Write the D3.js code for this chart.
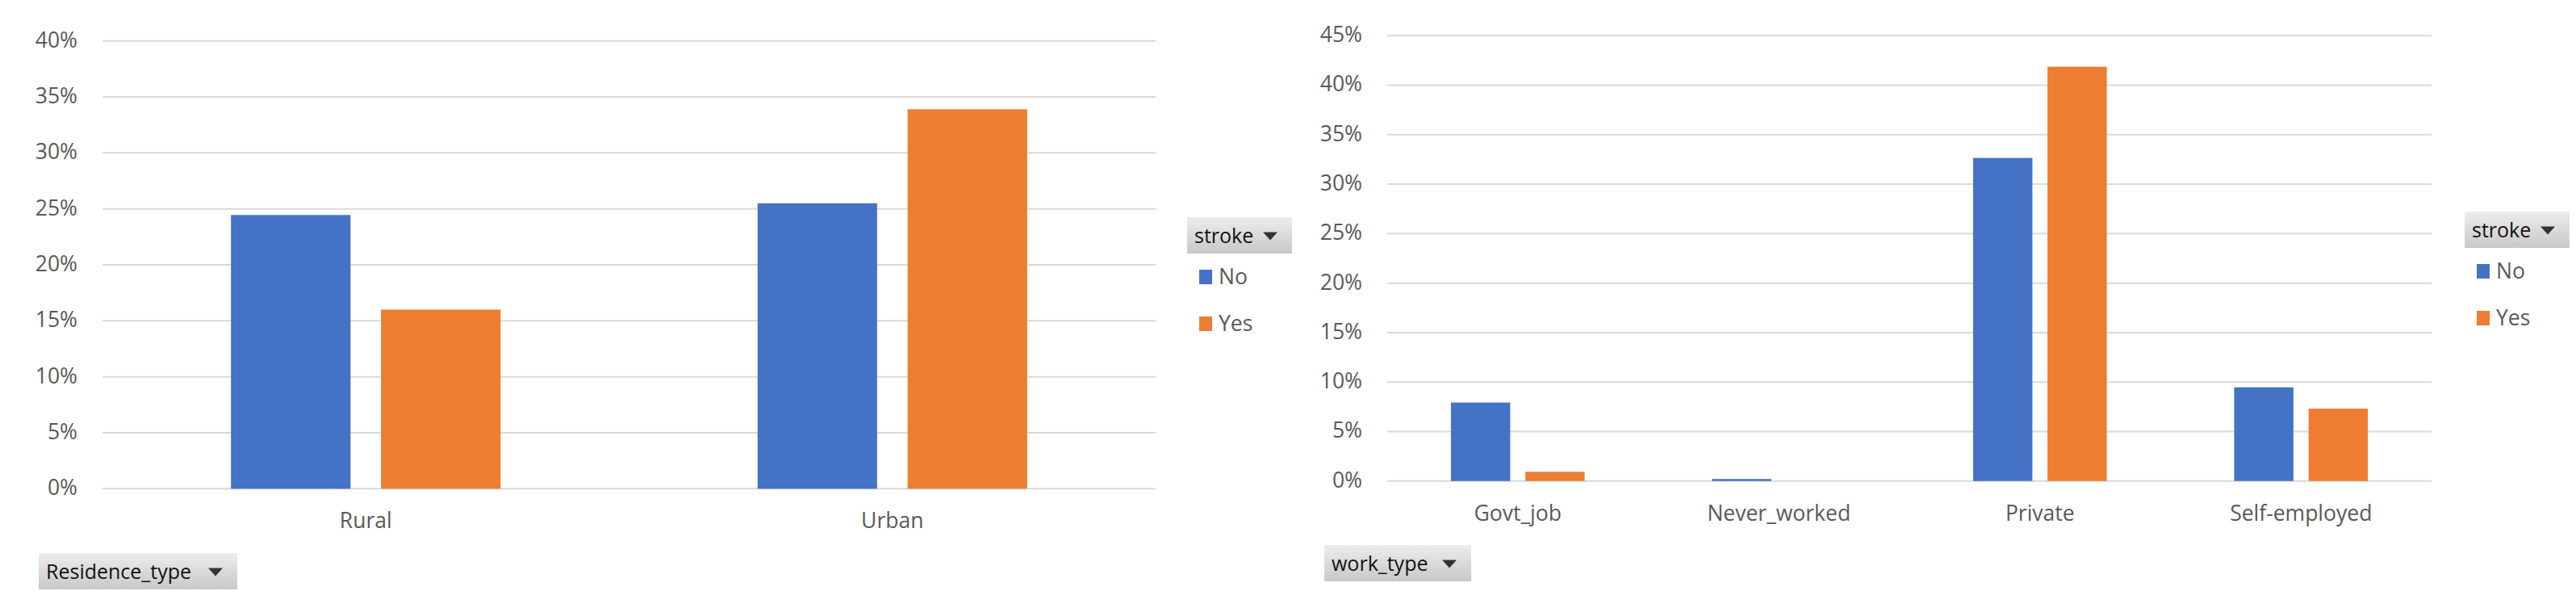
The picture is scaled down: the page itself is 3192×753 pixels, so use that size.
<!DOCTYPE html>
<html>
<head>
<meta charset="utf-8">
<script src="https://cdn.jsdelivr.net/npm/d3@7"></script>
<style>
  html, body { margin: 0; padding: 0; background: #ffffff; }
  svg { display: block; }
  text { font-family: "Open Sans", "Noto Sans", sans-serif; }
</style>
</head>
<body>
<svg id="chart" width="3192" height="753"></svg>
<script>
"use strict";

/********/
/* data */
/********/

const strokeSeries = ["No", "Yes"];
const seriesColours = ["#4472c4", "#ed7d31"];

const residenceTypes = ["Rural", "Urban"];
const residenceNo = [0.2445, 0.255];
const residenceYes = [0.16, 0.339];
const residenceTicks = [0, 0.05, 0.1, 0.15, 0.2, 0.25, 0.3, 0.35, 0.4];

const workTypes = ["Govt_job", "Never_worked", "Private", "Self-employed"];
const workNo = [0.0793, 0.002, 0.3265, 0.0947];
const workYes = [0.0093, 0, 0.4187, 0.0731];
const workTicks = [0, 0.05, 0.1, 0.15, 0.2, 0.25, 0.3, 0.35, 0.4, 0.45];

/********/
/* view */
/********/

const svg = d3.select("#chart");

const defs = svg.append("defs");
const grad = defs
  .append("linearGradient")
  .attr("id", "buttonFill")
  .attr("x1", 0)
  .attr("y1", 0)
  .attr("x2", 0)
  .attr("y2", 1);
grad.append("stop").attr("offset", "0%").attr("stop-color", "#ededed");
grad.append("stop").attr("offset", "100%").attr("stop-color", "#c8c8c8");

function button(x, y, w, h, label) {
  const g = svg.append("g").attr("transform", `translate(${x},${y})`);
  g.append("rect")
    .attr("width", w)
    .attr("height", h)
    .attr("fill", "url(#buttonFill)");
  g.append("text")
    .attr("x", 9)
    .attr("y", h / 2 + 9)
    .attr("font-size", 25)
    .attr("fill", "#111111")
    .text(label);
  const tx = w - 27;
  const ty = h / 2 - 4;
  g.append("path")
    .attr("d", `M${tx - 9},${ty} L${tx + 9},${ty} L${tx},${ty + 10} Z`)
    .attr("fill", "#333333");
}

function drawChart(opts) {
  const y = d3
    .scaleLinear()
    .domain([0, opts.ticks[opts.ticks.length - 1]])
    .range([opts.bottom, opts.top]);

  const x = d3
    .scaleBand()
    .domain(opts.categories)
    .range([opts.left, opts.right]);

  const band = x.bandwidth();
  const barW = band * 0.227;
  const gap = band * 0.058;

  const sub = d3
    .scaleOrdinal()
    .domain(strokeSeries)
    .range([-gap / 2 - barW, gap / 2]);

  // gridlines
  svg
    .append("g")
    .selectAll("line")
    .data(opts.ticks)
    .join("line")
    .attr("x1", opts.left)
    .attr("x2", opts.right)
    .attr("y1", d => y(d))
    .attr("y2", d => y(d))
    .attr("stroke", "#d9d9d9")
    .attr("stroke-width", 2);

  // y axis labels
  const yAxis = d3
    .axisLeft(y)
    .tickValues(opts.ticks)
    .tickFormat(d3.format(".0%"))
    .tickSize(0)
    .tickPadding(0);
  const ya = svg
    .append("g")
    .attr("transform", `translate(${opts.labelRight},0)`)
    .call(yAxis);
  ya.select(".domain").remove();
  ya.selectAll("text")
    .attr("font-family", '"Open Sans", "Noto Sans", sans-serif')
    .attr("font-size", 26.5)
    .attr("fill", "#595959")
    .attr("dy", "0.28em");

  // x axis labels
  const xAxis = d3.axisBottom(x).tickSize(0).tickPadding(0);
  const xa = svg
    .append("g")
    .attr("transform", `translate(0,${opts.bottom + 49})`)
    .call(xAxis);
  xa.select(".domain").remove();
  xa.selectAll("text")
    .attr("font-family", '"Open Sans", "Noto Sans", sans-serif')
    .attr("font-size", 26.5)
    .attr("fill", "#595959")
    .attr("dy", 0);

  // bars
  const rows = [];
  opts.categories.forEach((c, i) => {
    rows.push({ cat: c, series: "No", value: opts.no[i] });
    rows.push({ cat: c, series: "Yes", value: opts.yes[i] });
  });

  svg
    .append("g")
    .selectAll("rect")
    .data(rows.filter(d => d.value > 0))
    .join("rect")
    .attr("x", d => x(d.cat) + band / 2 + sub(d.series))
    .attr("width", barW)
    .attr("y", d => y(d.value))
    .attr("height", d => y(0) - y(d.value))
    .attr("fill", (d, i) => seriesColours[strokeSeries.indexOf(d.series)]);

  // legend
  button(opts.legendX, opts.legendY, 130, 45, "stroke");
  const leg = svg
    .append("g")
    .selectAll("g")
    .data(strokeSeries)
    .join("g")
    .attr(
      "transform",
      (d, i) =>
        `translate(${opts.legendX + 15},${opts.legendY + 65 + i * 58})`,
    );
  leg
    .append("rect")
    .attr("width", 16)
    .attr("height", 18)
    .attr("fill", (d, i) => seriesColours[i]);
  leg
    .append("text")
    .attr("x", 24)
    .attr("y", 18)
    .attr("font-size", 26.5)
    .attr("fill", "#595959")
    .text(d => d);

  // field button
  button(opts.fieldX, opts.fieldY, opts.fieldW, 45, opts.field);
}

drawChart({
  categories: residenceTypes,
  no: residenceNo,
  yes: residenceYes,
  ticks: residenceTicks,
  left: 127,
  right: 1432,
  top: 50.7,
  bottom: 605.3,
  labelRight: 96,
  legendX: 1471,
  legendY: 269,
  field: "Residence_type",
  fieldX: 48,
  fieldY: 685,
  fieldW: 246,
});

drawChart({
  categories: workTypes,
  no: workNo,
  yes: workYes,
  ticks: workTicks,
  left: 1719,
  right: 3013,
  top: 44.3,
  bottom: 595.7,
  labelRight: 1688,
  legendX: 3054,
  legendY: 262,
  field: "work_type",
  fieldX: 1641,
  fieldY: 675,
  fieldW: 182,
});
</script>
</body>
</html>
